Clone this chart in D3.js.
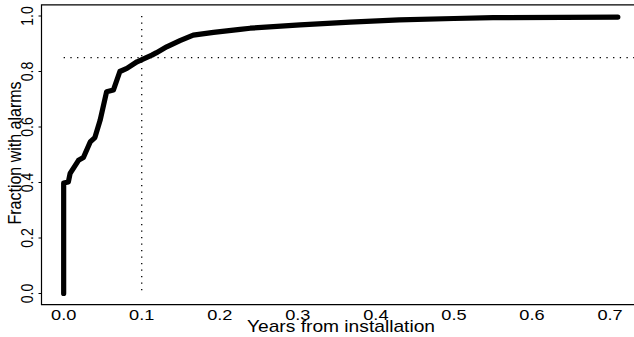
<!DOCTYPE html>
<html><head><meta charset="utf-8">
<script src="https://cdn.jsdelivr.net/npm/d3@7"></script>
<style>body{margin:0;background:#fff}svg{display:block}text{font-family:"Liberation Sans",Arial,sans-serif;fill:#000}</style>
</head><body><svg id="c" width="634" height="337"></svg>
<script>
const years = [0,0,0.006,0.0083,0.019,0.0253,0.034,0.040,0.0467,0.055,0.0637,0.072,0.081,0.094,0.101,0.113,0.119,0.132,0.149,0.166,0.192,0.226,0.239,0.303,0.367,0.43,0.5,0.55,0.71];
const fraction = [0,0.398,0.402,0.433,0.48,0.49,0.546,0.562,0.624,0.727,0.733,0.80,0.811,0.835,0.844,0.859,0.868,0.889,0.911,0.931,0.941,0.952,0.956,0.968,0.978,0.986,0.991,0.994,0.996];
const xTicks = [0,0.1,0.2,0.3,0.4,0.5,0.6,0.7];
const yTicks = [0,0.2,0.4,0.6,0.8,1.0];
const refX = 0.1, refY = 0.85;

const svg = d3.select("#c");
const x = d3.scaleLinear().domain([-0.0284,0.7384]).range([41.5,640]);
const y = d3.scaleLinear().domain([-0.04,1.04]).range([304.6,4.9]);

// box (right side off canvas)
svg.append("path").attr("d",`M${x(0.7384)},${y(1.04)}H${x(-0.0284)}V${y(-0.04)}H${x(0.7384)}`)
  .attr("fill","none").attr("stroke","#000").attr("stroke-width",1.2);

// y ticks
svg.selectAll(".yt").data(yTicks).enter().append("line")
  .attr("x1",x(-0.0284)-3).attr("x2",x(-0.0284)).attr("y1",d=>y(d)).attr("y2",d=>y(d))
  .attr("stroke","#000").attr("stroke-width",1);
svg.selectAll(".ytl").data(yTicks).enter().append("text")
  .attr("transform",d=>`translate(33.3,${y(d)}) scale(1.2,1) rotate(-90)`)
  .attr("text-anchor","middle").attr("font-size",14).text(d=>d3.format(".1f")(d));

// x tick labels
svg.selectAll(".xtl").data(xTicks).enter().append("text")
  .attr("transform",d=>`translate(${x(d)},319.5) scale(1.3,1)`)
  .attr("text-anchor","middle").attr("font-size",14).text(d=>d3.format(".1f")(d));

// titles
svg.append("text").attr("transform","translate(341,332) scale(1.2,1)")
  .attr("text-anchor","middle").attr("font-size",16).text("Years from installation");
svg.append("text").attr("transform",`translate(20.7,153) scale(1.2,1) rotate(-90)`)
  .attr("text-anchor","middle").attr("font-size",16).text("Fraction with alarms");

// dotted reference lines
svg.append("line").attr("x1",x(refX)).attr("x2",x(refX)).attr("y1",y(1)).attr("y2",y(0))
  .attr("stroke","#000").attr("stroke-width",1.3).attr("stroke-dasharray","1.3,5.2");
svg.append("line").attr("x1",x(0)).attr("x2",640).attr("y1",y(refY)).attr("y2",y(refY))
  .attr("stroke","#000").attr("stroke-width",1.3).attr("stroke-dasharray","1.3,5.4");

// curve
const pts = years.map((v,i)=>[v,fraction[i]]);
svg.append("path").datum(pts)
  .attr("d",d3.line().x(d=>x(d[0])).y(d=>y(d[1])))
  .attr("fill","none").attr("stroke","#000").attr("stroke-width",5.2)
  .attr("stroke-linecap","round").attr("stroke-linejoin","round");
</script></body></html>
